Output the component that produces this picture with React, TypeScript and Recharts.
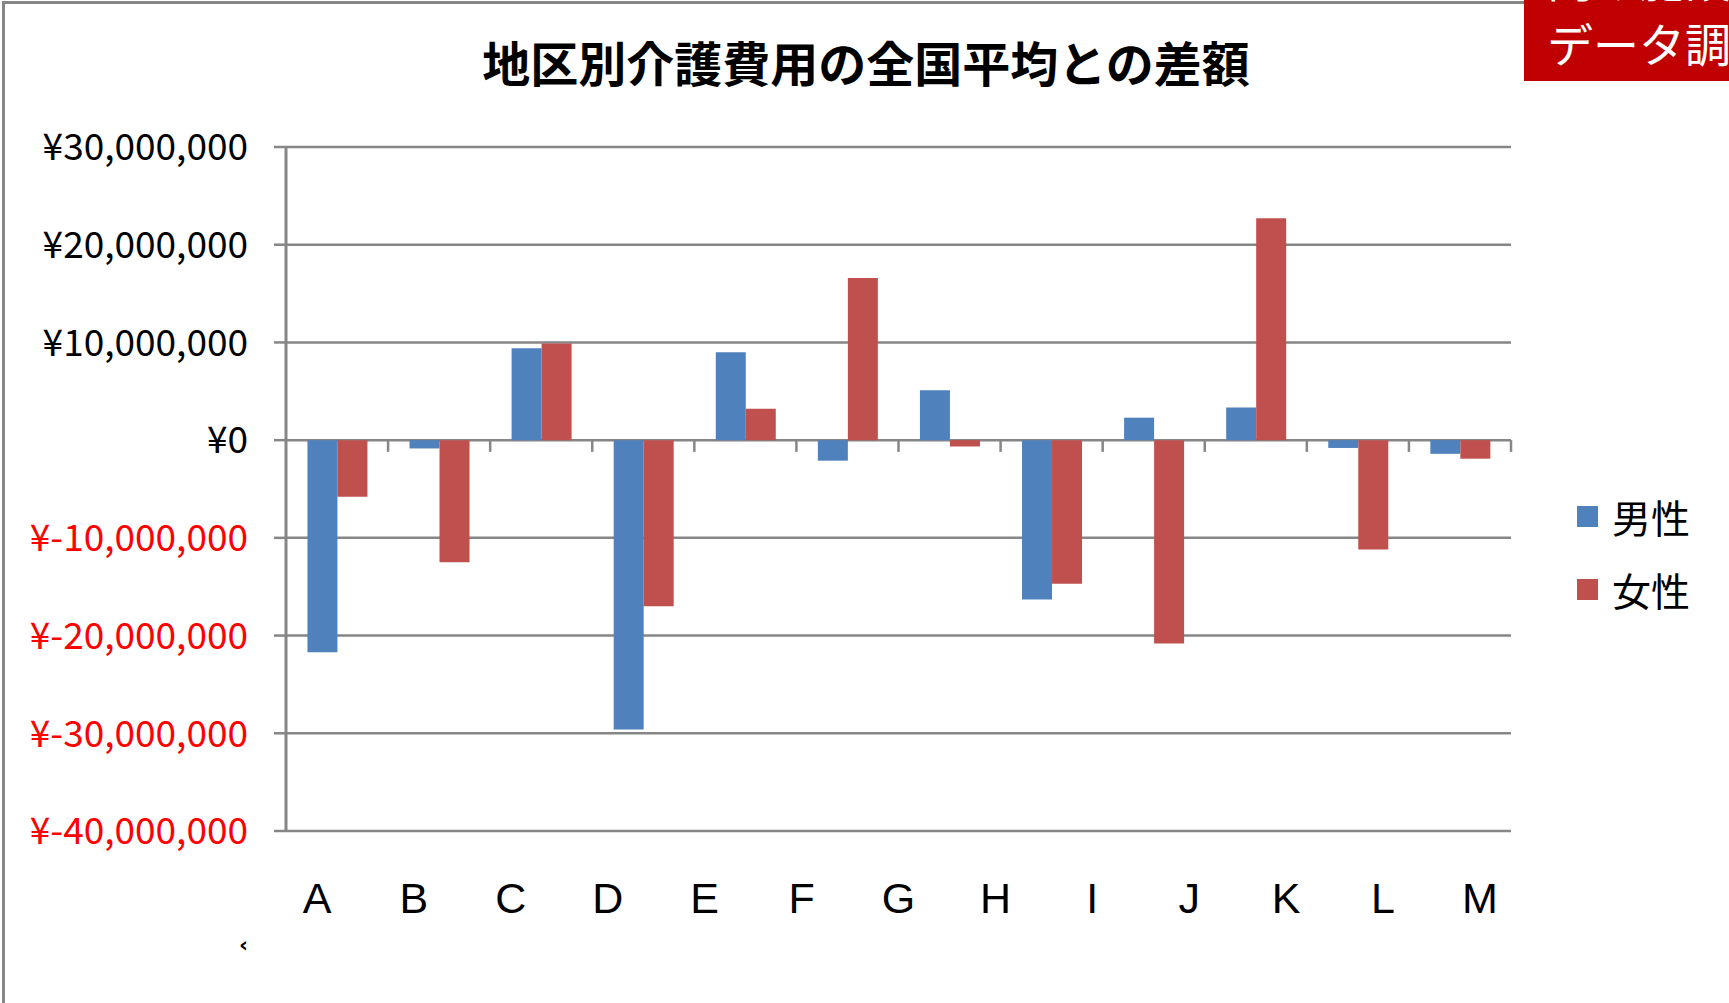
import React from "react";
import {
  BarChart,
  Bar,
  XAxis,
  YAxis,
  CartesianGrid,
  Legend,
  ReferenceLine,
} from "recharts";

// 12 bar groups, plotted against the national average (yen)
const regions = ["A", "B", "C", "D", "E", "F", "G", "H", "J", "K", "L", "M"];
const maleDiff = [
  -21700000, -850000, 9400000, -29600000, 9000000, -2100000, 5100000,
  -16300000, 2300000, 3350000, -800000, -1400000,
];
const femaleDiff = [
  -5800000, -12500000, 9900000, -17000000, 3200000, 16600000, -650000,
  -14700000, -20800000, 22700000, -11200000, -1900000,
];

// label row printed under the plot (13 letters)
const axisLabels = ["A", "B", "C", "D", "E", "F", "G", "H", "I", "J", "K", "L", "M"];
const yTicks = [30000000, 20000000, 10000000, 0, -10000000, -20000000, -30000000, -40000000];
const seriesOrder = ["male", "female"];

const data = regions.map((region, i) => ({
  region,
  male: maleDiff[i],
  female: femaleDiff[i],
}));

const GRAY = "#868686";
const JP = "'Noto Sans CJK JP', 'Noto Sans', sans-serif";
const TICK_DEPTH = 1200000;

const yen = (v: number) => "¥" + v.toLocaleString("en-US");

const YTick = ({ x, y, payload }: any) => (
  <text
    x={x}
    y={y}
    dy="0.36em"
    textAnchor="end"
    fontSize={37}
    fontFamily={JP}
    fill={payload.value < 0 ? "#FF0000" : "#000000"}
  >
    {yen(payload.value)}
  </text>
);

const LegendBox = ({ payload }: any) => {
  const items = [...(payload || [])].sort(
    (a: any, b: any) => seriesOrder.indexOf(a.dataKey) - seriesOrder.indexOf(b.dataKey)
  );
  return (
    <div>
      {items.map((item: any) => (
        <div
          key={item.value}
          style={{ display: "flex", alignItems: "center", height: 73 }}
        >
          <span
            style={{ width: 21, height: 21, background: item.color, marginRight: 14 }}
          />
          <span style={{ fontSize: 39, fontFamily: JP, color: "#000", lineHeight: 1 }}>
            {item.value}
          </span>
        </div>
      ))}
    </div>
  );
};

export default function App() {
  return (
    <div
      style={{
        position: "absolute",
        left: 0,
        top: 0,
        width: 1729,
        height: 1003,
        overflow: "hidden",
        background: "#fff",
        fontFamily: JP,
      }}
    >
      <div
        style={{
          position: "absolute",
          left: 2,
          top: 1,
          width: 2000,
          height: 2000,
          border: `3px solid ${GRAY}`,
        }}
      />

      <div
        style={{
          position: "absolute",
          left: 366,
          top: 37,
          width: 1000,
          textAlign: "center",
          fontSize: 48,
          fontWeight: 700,
          lineHeight: 1,
          color: "#000",
        }}
      >
        地区別介護費用の全国平均との差額
      </div>

      <BarChart
        width={1729}
        height={1003}
        data={data}
        margin={{ top: 147, right: 218, bottom: 0, left: 0 }}
        barGap={0}
        barCategoryGap="21%"
        style={{ position: "absolute", left: 0, top: 0 }}
      >
        <CartesianGrid vertical={false} stroke={GRAY} strokeWidth={2.5} />
        <XAxis dataKey="region" hide />
        {/* separate label row: its own numeric scale, not tied to the bar data */}
        <XAxis
          xAxisId="labels"
          dataKey="labelSlot"
          type="number"
          domain={[0, axisLabels.length - 1]}
          ticks={axisLabels.map((_, i) => i)}
          tickFormatter={(i: number) => axisLabels[i]}
          allowDataOverflow
          interval={0}
          padding={{ left: 31, right: 31 }}
          axisLine={false}
          tickLine={false}
          tickSize={0}
          tickMargin={21}
          height={172}
          tick={{ fontSize: 43, fill: "#000", fontFamily: "'Liberation Sans', Arial, sans-serif" }}
        />
        <YAxis
          width={286}
          domain={[-40000000, 30000000]}
          ticks={yTicks}
          interval={0}
          allowDataOverflow
          tickSize={12}
          tickMargin={26}
          axisLine={{ stroke: GRAY, strokeWidth: 3 }}
          tickLine={{ stroke: GRAY, strokeWidth: 2.5 }}
          tick={(p: any) => <YTick {...p} />}
        />
        {regions.slice(1).map((r) => (
          <ReferenceLine
            key={r}
            segment={[
              { x: r, y: 0 },
              { x: r, y: -TICK_DEPTH },
            ]}
            position="start"
            stroke={GRAY}
            strokeWidth={2.5}
          />
        ))}
        <ReferenceLine
          segment={[
            { x: regions[regions.length - 1], y: 0 },
            { x: regions[regions.length - 1], y: -TICK_DEPTH },
          ]}
          position="end"
          stroke={GRAY}
          strokeWidth={2.5}
        />
        <Bar dataKey="male" name="男性" fill="#4F81BD" isAnimationActive={false} />
        <Bar dataKey="female" name="女性" fill="#C0504D" isAnimationActive={false} />
        <Legend
          content={<LegendBox />}
          layout="horizontal"
          verticalAlign="middle"
          align="center"
          wrapperStyle={{ left: 1577, top: 480, width: 150 }}
        />
      </BarChart>

      <div
        style={{
          position: "absolute",
          left: 1524,
          top: 0,
          width: 260,
          height: 81,
          background: "#C00000",
          overflow: "hidden",
          color: "#fff",
          fontSize: 46,
          lineHeight: 1,
          whiteSpace: "nowrap",
        }}
      >
        <div style={{ position: "absolute", left: 23, top: -46 }}>向け施設</div>
        <div style={{ position: "absolute", left: 23, top: 19 }}>データ調査</div>
      </div>

      <div
        style={{
          position: "absolute",
          left: 239,
          top: 934,
          fontSize: 22,
          fontWeight: 700,
          lineHeight: 1,
          fontFamily: "'DejaVu Sans', sans-serif",
        }}
      >
        ‹
      </div>
    </div>
  );
}
